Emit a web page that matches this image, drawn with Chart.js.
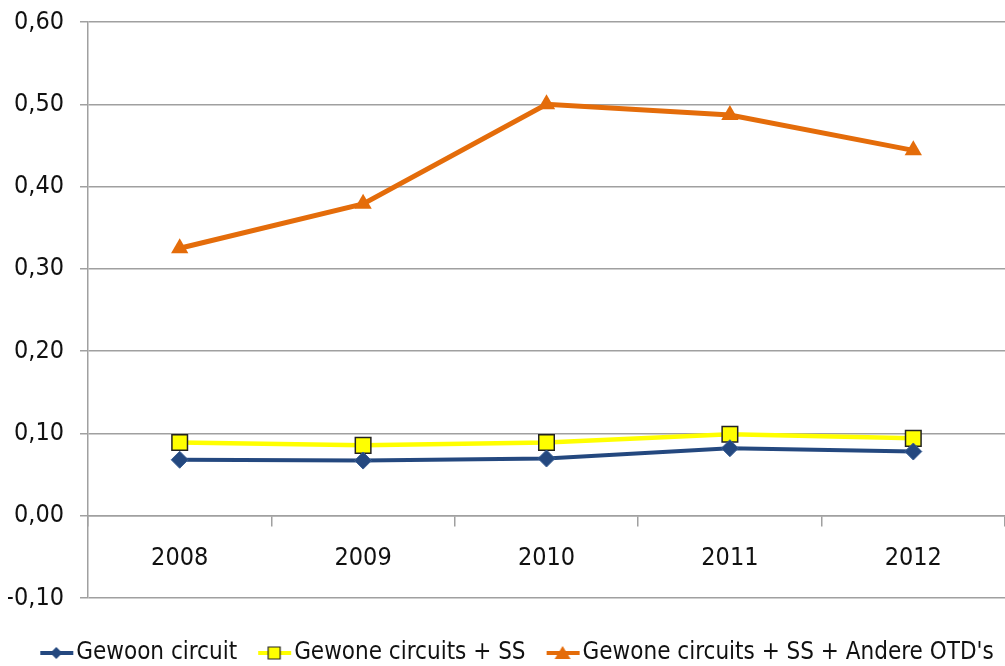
<!DOCTYPE html>
<html>
<head>
<meta charset="utf-8">
<script src="https://cdn.jsdelivr.net/npm/chart.js@4/dist/chart.umd.min.js"></script>
<style>
  html, body { margin: 0; padding: 0; background: #fff; }
  #wrap { width: 1005px; height: 666px; }
</style>
</head>
<body>
<div id="wrap"><canvas id="chart" width="1005" height="666"></canvas></div>
<script>
let years = ["2008", "2009", "2010", "2011", "2012"];
let gewoonCircuit = [0.068, 0.067, 0.0695, 0.082, 0.078];
let gewoneSS = [0.089, 0.0855, 0.089, 0.099, 0.094];
let gewoneSSAndere = [0.325, 0.379, 0.500, 0.487, 0.444];
let seriesNames = ["Gewoon circuit", "Gewone circuits + SS", "Gewone circuits + SS + Andere OTD's"];

const FONT = "'Liberation Sans Narrow', 'Arial Narrow', 'DejaVu Sans Condensed', sans-serif";

// line+marker icon for the legend, drawn in the right part of a wider image
// so the text sits close to it (Excel style)
function legendIcon(color, style, border) {
    let c = document.createElement("canvas");
    c.width = 65;
    c.height = 18;
    let ctx = c.getContext("2d");
    let x0 = 31;
    ctx.strokeStyle = color;
    ctx.lineWidth = 4;
    ctx.beginPath();
    ctx.moveTo(x0, 9);
    ctx.lineTo(x0 + 33, 9);
    ctx.stroke();
    let cx = x0 + 16;
    ctx.fillStyle = color;
    ctx.beginPath();
    if (style === "diamond") {
        ctx.moveTo(cx, 3); ctx.lineTo(cx + 6, 9); ctx.lineTo(cx, 15); ctx.lineTo(cx - 6, 9);
    } else if (style === "square") {
        ctx.rect(cx - 6, 3, 12, 12);
    } else {
        ctx.moveTo(cx, 2); ctx.lineTo(cx + 8, 15); ctx.lineTo(cx - 8, 15);
    }
    ctx.closePath();
    ctx.fill();
    if (border) {
        ctx.strokeStyle = border;
        ctx.lineWidth = 1.2;
        ctx.stroke();
    }
    return c;
}

let icons = [
    legendIcon("#24487f", "diamond"),
    legendIcon("#ffff00", "square", "#222"),
    legendIcon("#e46c0a", "triangle")
];

function noPadding(s) {
    s.paddingTop = 0;
    s.paddingBottom = 0;
    s.paddingLeft = 0;
    s.paddingRight = 0;
}

new Chart(document.getElementById("chart"), {
    type: "line",
    data: {
        labels: years,
        datasets: [{
            label: seriesNames[0],
            data: gewoonCircuit,
            borderColor: "#24487f",
            backgroundColor: "#24487f",
            borderWidth: 4,
            pointStyle: "rectRot",
            pointRadius: 8.5,
            pointBorderWidth: 1,
            pointBorderColor: "#3a5f95",
            tension: 0
        }, {
            label: seriesNames[1],
            data: gewoneSS,
            borderColor: "#ffff00",
            backgroundColor: "#ffff00",
            borderWidth: 4.5,
            pointStyle: "rect",
            pointRadius: 11,
            pointBorderWidth: 1.5,
            pointBorderColor: "#222",
            tension: 0
        }, {
            label: seriesNames[2],
            data: gewoneSSAndere,
            borderColor: "#e46c0a",
            backgroundColor: "#e46c0a",
            borderWidth: 5,
            pointStyle: "triangle",
            pointRadius: 10,
            pointBorderWidth: 0,
            tension: 0
        }]
    },
    options: {
        responsive: false,
        animation: false,
        layout: { autoPadding: false, padding: { left: 8, top: 22, right: 0, bottom: -9 } },
        scales: {
            x: {
                position: { y: 0 },
                offset: true,
                afterFit: noPadding,
                grid: {
                    offset: true,
                    drawOnChartArea: false,
                    drawTicks: true,
                    tickLength: 10,
                    color: "#a0a0a0",
                    lineWidth: 1.5
                },
                border: { display: true, color: "#a0a0a0", width: 1.5 },
                ticks: {
                    color: "#111",
                    font: { family: FONT, size: 25 },
                    padding: 18,
                    maxRotation: 0
                }
            },
            y: {
                min: -0.1,
                max: 0.6,
                afterFit: (s) => { s.width = 80; noPadding(s); },
                grid: {
                    color: "#a0a0a0",
                    lineWidth: 1.5,
                    tickLength: 8
                },
                border: { display: true, color: "#a0a0a0", width: 1.5 },
                ticks: {
                    stepSize: 0.1,
                    color: "#111",
                    padding: 16,
                    font: { family: FONT, size: 25 },
                    callback: (v) => (Math.abs(v) < 1e-9 ? 0 : v).toFixed(2).replace(".", ",")
                }
            }
        },
        plugins: {
            legend: {
                position: "bottom",
                title: {
                    display: true,
                    text: " ",
                    font: { size: 1, lineHeight: 1 },
                    padding: { top: 42, bottom: 0 }
                },
                labels: {
                    color: "#111",
                    font: { family: FONT, size: 24 },
                    usePointStyle: true,
                    pointStyleWidth: 45,
                    padding: 0,
                    generateLabels: (chart) => chart.data.datasets.map((d, i) => ({
                        text: d.label,
                        pointStyle: icons[i],
                        fontColor: "#111",
                        datasetIndex: i,
                        lineWidth: 0,
                        hidden: false
                    }))
                }
            },
            tooltip: { enabled: false }
        }
    }
});
</script>
</body>
</html>
